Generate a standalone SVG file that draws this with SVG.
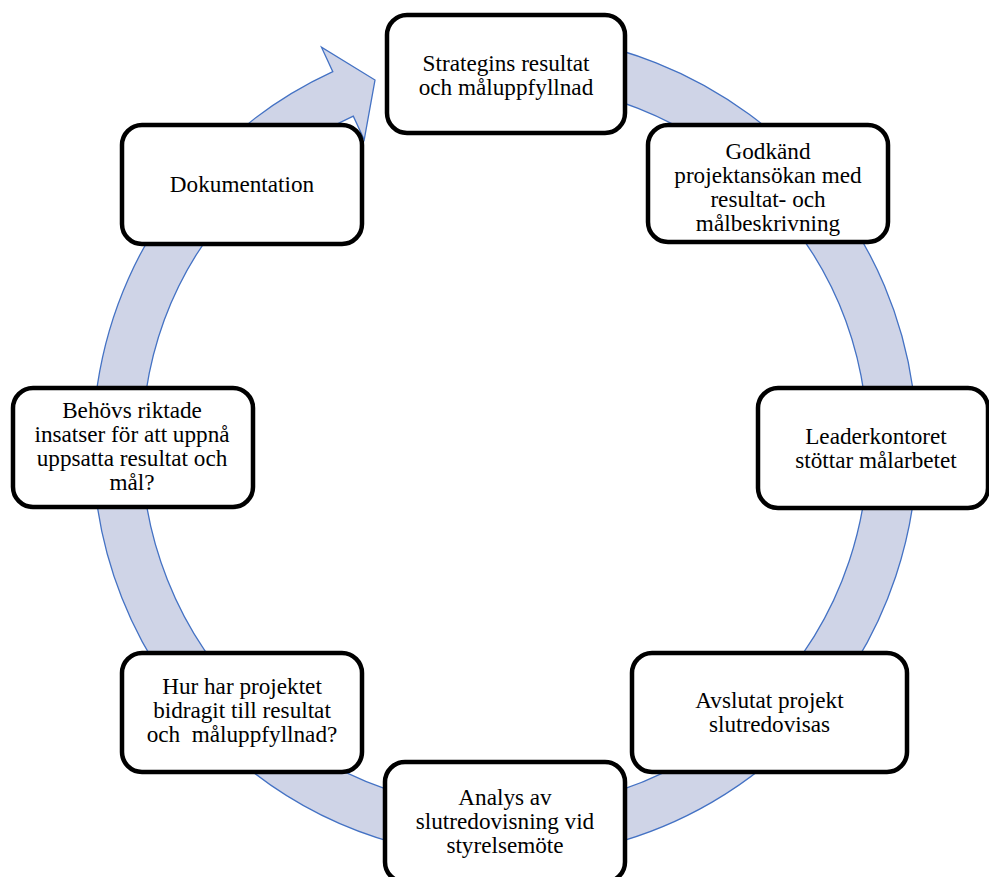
<svg xmlns="http://www.w3.org/2000/svg" width="989" height="877" viewBox="0 0 989 877">
<style>
.box{fill:#ffffff;stroke:#000000;stroke-width:4.5}
.t{font-family:"Liberation Serif","Times New Roman",serif;font-size:23.2px;fill:#000000;text-anchor:middle}
.ring{fill:#cfd4e7;stroke:#4472c4;stroke-width:1.3;stroke-linejoin:miter}
</style>
<rect width="989" height="877" fill="#ffffff"/>
<g id="connectors">
<path class="ring" d="M 469.1 35.6 A 412 412 0 1 1 332.8 71.7 L 321.5 47.2 L 375 80 L 364.2 139.8 L 353.3 116.2 A 363 363 0 1 0 473.4 84.4 Z"/>
</g>
<g id="node-strategins">
<rect class="box" x="387" y="15" width="238" height="118" rx="20"/>
<text class="t" x="506" y="71">Strategins resultat</text>
<text class="t" x="506" y="95">och måluppfyllnad</text>
</g>
<g id="node-godkand">
<rect class="box" x="648" y="125" width="240" height="117" rx="20"/>
<text class="t" x="768" y="159">Godkänd</text>
<text class="t" x="768" y="183">projektansökan med</text>
<text class="t" x="768" y="207">resultat- och</text>
<text class="t" x="768" y="231">målbeskrivning</text>
</g>
<g id="node-leader">
<rect class="box" x="758" y="388" width="230" height="120" rx="20"/>
<text class="t" x="876" y="444">Leaderkontoret</text>
<text class="t" x="876" y="468">stöttar målarbetet</text>
</g>
<g id="node-avslutat">
<rect class="box" x="632" y="653" width="275" height="119" rx="20"/>
<text class="t" x="769.5" y="708">Avslutat projekt</text>
<text class="t" x="769.5" y="732">slutredovisas</text>
</g>
<g id="node-analys">
<rect class="box" x="385" y="762" width="240" height="120" rx="20"/>
<text class="t" x="505" y="805">Analys av</text>
<text class="t" x="505" y="829">slutredovisning vid</text>
<text class="t" x="505" y="853">styrelsemöte</text>
</g>
<g id="node-hur">
<rect class="box" x="122" y="653" width="240" height="119" rx="20"/>
<text class="t" x="242" y="694">Hur har projektet</text>
<text class="t" x="242" y="718">bidragit till resultat</text>
<text class="t" x="242" y="742" xml:space="preserve" style="white-space:pre">och  måluppfyllnad?</text>
</g>
<g id="node-behovs">
<rect class="box" x="13" y="388" width="240" height="119" rx="20"/>
<text class="t" x="132" y="418">Behövs riktade</text>
<text class="t" x="132" y="442">insatser för att uppnå</text>
<text class="t" x="132" y="466">uppsatta resultat och</text>
<text class="t" x="132" y="490">mål?</text>
</g>
<g id="node-dokumentation">
<rect class="box" x="122" y="125" width="240" height="119" rx="20"/>
<text class="t" x="242" y="192">Dokumentation</text>
</g>
</svg>
